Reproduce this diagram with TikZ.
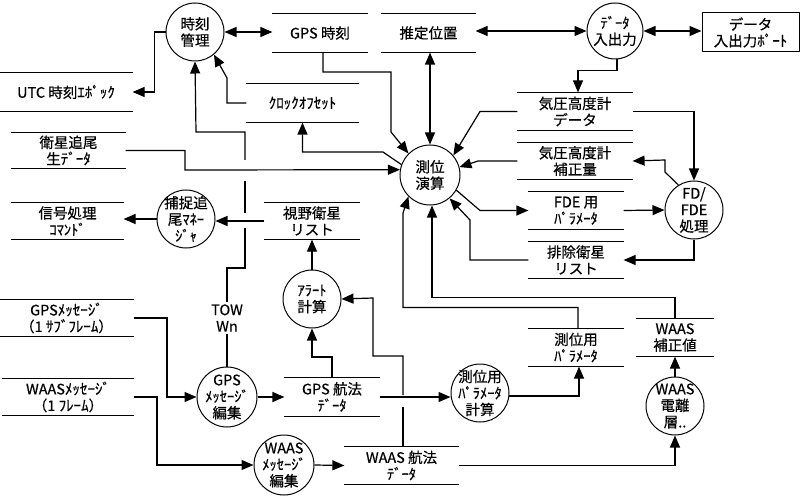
\documentclass[tikz,border=0pt]{standalone}
\usepackage{fontspec}
\setmainfont{Noto Sans CJK JP}[UprightFeatures={FakeBold=0.5}]
\usetikzlibrary{arrows.meta}
\newcommand\fA{\fontsize{14.5}{16.5}\selectfont}
\newcommand\fK{\fontsize{14.5}{15}\selectfont}
\newcommand\fH{\fontsize{15}{16}\selectfont}
\begin{document}
\begin{tikzpicture}[x=1pt,y=-1pt,line width=1.2pt,
  >={Triangle[length=12pt,width=10pt]},
  store/.style={rectangle,inner sep=0pt,align=center,font=\fA},
  proc/.style={circle,draw,line width=1pt,inner sep=0pt,minimum size=#1},
  lab/.style={align=center,font=\fA,inner sep=0pt},
  sline/.style={line width=1pt}]
\useasboundingbox (0,0) rectangle (800,497);

% ---------- processes ----------
\node[proc=58pt,label={[lab]center:時刻\\管理}] (timemgmt) at (195,32) {};
\node[proc=56pt,label={[lab]center:{\fK ﾃﾞｰﾀ}\\入出力}] (dataio) at (615,31) {};
\node[proc=60pt,label={[lab]center:測位\\演算}] (posc) at (430,175) {};
\node[proc=58pt,label={[lab]center:FD/\\FDE\\処理}] (fde) at (694,210) {};
\node[proc=58pt,label={[lab]center:捕捉追\\尾{\fK ﾏﾈｰ}\\{\fK ｼﾞｬ}}] (acqmgr) at (186,219) {};
\node[proc=58pt,label={[lab]center:{\fK ｱﾗｰﾄ}\\計算}] (alert) at (312,299) {};
\node[proc=60pt,label={[lab]center:GPS\\{\fK ﾒｯｾｰｼﾞ}\\編集}] (gpsedit) at (227,397) {};
\node[proc=58pt,label={[lab]center:測位用\\{\fK ﾊﾟﾗﾒｰﾀ}\\計算}] (parcalc) at (480,393) {};
\node[proc=60pt,label={[lab]center:WAAS\\{\fK ﾒｯｾｰｼﾞ}\\編集}] (waasedit) at (284,465) {};
\node[proc=58pt,label={[lab]center:WAAS\\電離\\層..}] (iono) at (675,406) {};

% ---------- terminator ----------
\node[draw,line width=1pt,minimum width=97pt,minimum height=39pt,inner sep=0pt,
      align=center,font=\fA] (port) at (750.5,32.5) {データ\\入出力{\fH ﾎﾟｰﾄ}};

% ---------- stores ----------
\node[store,minimum width=94pt,minimum height=38pt] (gpstime) at (320,33) {GPS 時刻};
\node[store,minimum width=93pt,minimum height=38pt] (estpos) at (428.5,33) {推定位置};
\node[store,minimum width=132pt,minimum height=38pt] (utc) at (66,92) {UTC 時刻{\fH ｴﾎﾟｯｸ}};
\node[store,minimum width=111pt,minimum height=38pt] (clock) at (302.5,103) {{\fH ｸﾛｯｸｵﾌｾｯﾄ}};
\node[store,minimum width=113pt,minimum height=35pt] (sattrk) at (68.5,150.5) {衛星追尾\\生{\fH ﾃﾞｰﾀ}};
\node[store,minimum width=114pt,minimum height=37pt] (baro) at (575,111.5) {気圧高度計\\データ};
\node[store,minimum width=114pt,minimum height=36pt] (barocorr) at (575,161) {気圧高度計\\補正量};
\node[store,minimum width=94pt,minimum height=37pt] (fdepar) at (576,210.5) {FDE 用\\{\fK ﾊﾟﾗﾒｰﾀ}};
\node[store,minimum width=94pt,minimum height=36pt] (excl) at (576,260) {排除衛星\\リスト};
\node[store,minimum width=111pt,minimum height=36pt] (sigcmd) at (67.5,221) {信号処理\\{\fK ｺﾏﾝﾄﾞ}};
\node[store,minimum width=94pt,minimum height=36pt] (vissat) at (312,221) {視野衛星\\リスト};
\node[store,minimum width=133pt,minimum height=36pt] (gpsmsg) at (66.5,318) {GPS{\fH ﾒｯｾｰｼﾞ}\\（1 {\fH ｻﾌﾞﾌﾚｰﾑ}）};
\node[store,minimum width=130pt,minimum height=36pt] (waasmsg) at (68,397) {WAAS{\fH ﾒｯｾｰｼﾞ}\\（1 {\fH ﾌﾚｰﾑ}）};
\node[store,minimum width=94pt,minimum height=38pt] (gpsnav) at (332,397) {GPS 航法\\{\fK ﾃﾞｰﾀ}};
\node[store,minimum width=113pt,minimum height=37pt] (waasnav) at (401.5,465.5) {WAAS 航法\\{\fK ﾃﾞｰﾀ}};
\node[store,minimum width=94pt,minimum height=37pt] (pospar) at (576,347.5) {測位用\\{\fK ﾊﾟﾗﾒｰﾀ}};
\node[store,minimum width=76pt,minimum height=37pt] (waascorr) at (675,337.5) {WAAS\\補正値};

\foreach \n in {gpstime,estpos,utc,clock,sattrk,baro,barocorr,fdepar,excl,sigcmd,vissat,gpsmsg,waasmsg,gpsnav,waasnav,pospar,waascorr}
  \draw[sline] (\n.north west) -- (\n.north east) (\n.south west) -- (\n.south east);

\node[lab,inner sep=2pt] (tow) at (227,318) {TOW\\Wn};

% ---------- flows ----------
\draw[<->] (timemgmt.east) -- (timemgmt.east -| gpstime.west);
\draw[<->] (estpos.east |- dataio.west) -- (dataio.west);
\draw[<->] (dataio.east) -- (dataio.east -| port.west);
\draw[->] (timemgmt.west) -- ++(-11,0) |- (utc.east);
\draw[->] ([xshift=2]dataio.south) -- ++(0,11) -| ([xshift=3]baro.north);
\draw[->] (baro.east) -| (fde.north);
\draw[->] (fde.122) -- (665,172) -- (665,160) -- (barocorr.east);
\draw[->] (fdepar.east) -- (fde.west);
\draw[->] (fde.south) |- (excl.east);

\draw[->] ([xshift=3]gpstime.south) |- (391,72) -- (391,132) -- (posc.135);
\draw[<->] (estpos.south -| posc.north) -- (posc.north);
\draw[->] (baro.west) -- (480,111.5) -- (posc.40);
\draw[->] (barocorr.west) -- (478,161) -- (posc.15);
\draw[->] (posc.-30) -- (480,210.5) -- (fdepar.west);
\draw[->] (excl.west) -- (470,260) -- (470,220) -- (posc.-50);
\draw[->] (waascorr.north) -- ++(0,-21) -| ([xshift=2]posc.south);
\draw[->] ([xshift=2]pospar.north) -- ++(0,-21) -| (403,213) -- (posc.-135);
\draw[->] (sattrk.east) -| (185,170) -- (posc.170);
\draw[->] (posc.160) -- (383,152) -| (clock.south);
\draw[->] (clock.west) -| (227,78) -- (timemgmt.-50);

\draw (gpsedit.north) -- (tow.south);
\draw (tow.north) |- (245,268) -- (245,228);
\draw (245,213) -- (245,181);
\draw[->] (245,160) |- (196,132) -- (timemgmt.south);

\draw[->] (vissat.west) -- (vissat.west -| acqmgr.east);
\draw[->] (acqmgr.west) -- (acqmgr.west -| sigcmd.east);
\draw[->] (alert.north) -- (vissat.south);
\draw[->] (gpsnav.north) -- (332,357) -| (alert.south);
\draw ([xshift=1.5]waasnav.north) -- (403,407);
\draw[->] (403,395) -- (403,356) -| (373,298) -- (alert.east);

\draw[->] (gpsmsg.east) -| (167,397) -- (gpsedit.west);
\draw[->] (waasmsg.east) -| (157,465) -- (waasedit.west);
\draw[->] (gpsedit.east) -- (gpsnav.west);
\draw[->] (waasedit.east) -- (waasnav.west);
\draw[->] (waasnav.east) -| (iono.south);
\draw[->] (iono.north) -- (waascorr.south);
\draw[->] (gpsnav.east) -- (gpsnav.east -| parcalc.west);
\draw[->] (parcalc.-6) -| ([xshift=3]pospar.south);
\end{tikzpicture}
\end{document}
